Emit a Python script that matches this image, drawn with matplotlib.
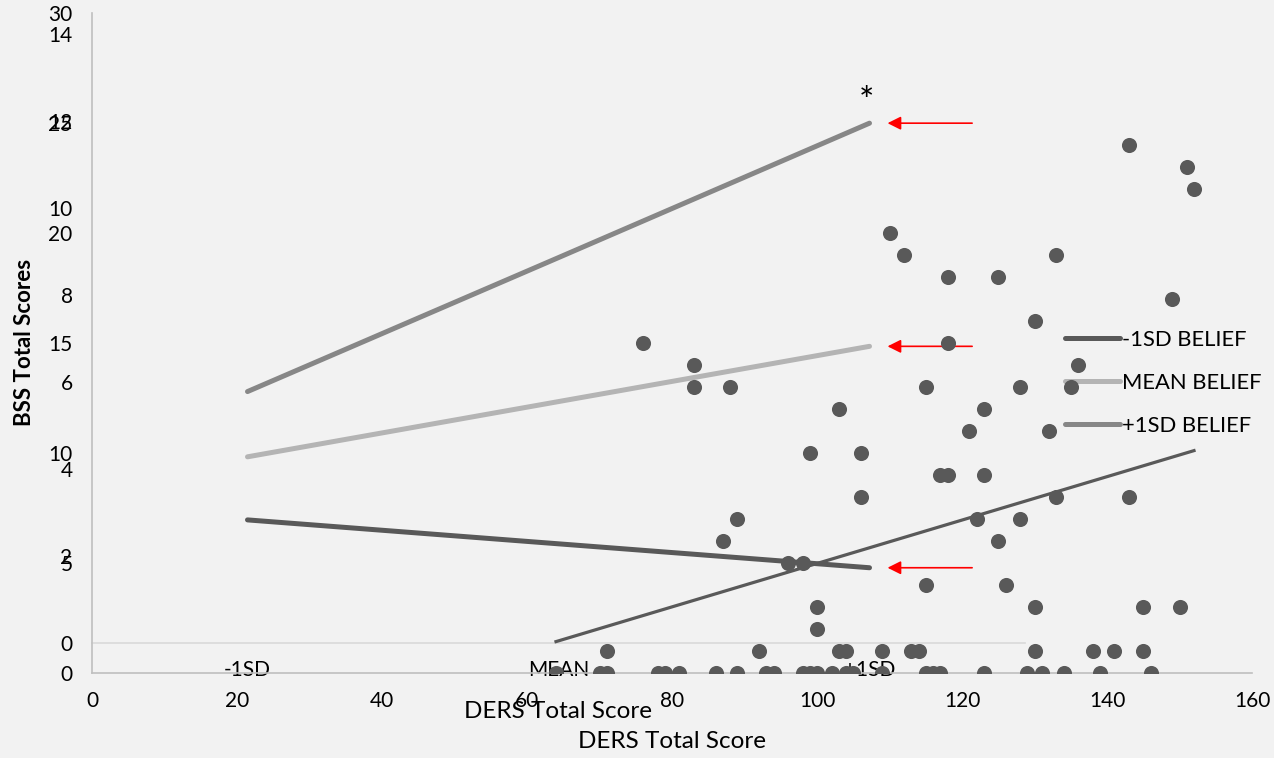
import matplotlib
matplotlib.use('Agg')
import matplotlib.pyplot as plt
import numpy as np

#######################################################################
#                                Data                                 #
#######################################################################
# DERS total score vs BSS total score, one entry per participant
ders = [64, 70, 71, 78, 79, 81, 86, 89, 93, 94, 98, 99, 100, 102, 104, 105,
        109, 115, 116, 117, 123, 129, 131, 134, 139, 146,
        71, 92, 103, 104, 109, 113, 114, 130, 138, 141, 145,
        100,
        100, 130, 145, 150,
        115, 126,
        96, 98,
        87, 125,
        89, 122, 128,
        106, 133, 143,
        117, 118, 123,
        99, 106,
        121, 132,
        103, 123,
        83, 88, 115, 128, 135,
        83, 136,
        76, 118,
        130,
        149,
        118, 125,
        112, 133,
        110,
        152,
        151,
        143]
bss = [0] * 26 + [1] * 11 + [2] + [3] * 4 + [4] * 2 + [5] * 2 + [6] * 2 + \
      [7] * 3 + [8] * 3 + [9] * 3 + [10] * 2 + [11] * 2 + [12] * 2 + \
      [13] * 5 + [14] * 2 + [15] * 2 + [16] + [17] + [18] * 2 + [19] * 2 + \
      [20] + [22] + [23] + [24]

# simple slopes of belief as moderator
categories = ['-1SD', 'MEAN', '+1SD']
minus_sd_belief = [2.83, 2.28, 1.73]
mean_belief = [4.28, 5.55, 6.82]
plus_sd_belief = [5.78, 8.86, 11.95]

scatter_yticks = [0, 5, 10, 15, 20, 25, 30]
scatter_xticks = [0, 20, 40, 60, 80, 100, 120, 140, 160]
line_yticks = [0, 2, 4, 6, 8, 10, 12, 14]

#######################################################################
#                               Styling                               #
#######################################################################
plt.rcParams['font.family'] = ['Lato', 'DejaVu Sans']
BG = '#f2f2f2'
DARK = '#595959'
MID = '#878787'
LIGHT = '#b4b4b4'
FS = 15          # tick labels
FS_TITLE = 17.5  # axis titles
FS_LEG = 15.8

W, H = 1274, 758
fig = plt.figure(figsize=(W / 100, H / 100), dpi=100, facecolor=BG)


def frac(left, top, right, bottom):
    """Pixel box -> figure fraction rect"""
    return [left / W, 1 - bottom / H, (right - left) / W, (bottom - top) / H]


# line chart sits underneath, scatter on top
ax_l = fig.add_axes(frac(92, 34, 1025, 643))
ax_s = fig.add_axes(frac(92, 13, 1252, 673))
for ax in (ax_l, ax_s):
    ax.set_facecolor('none')
    for sp in ax.spines.values():
        sp.set_visible(False)

#######################################################################
#                             Line chart                              #
#######################################################################
xc = np.arange(len(categories))
ax_l.plot(xc, minus_sd_belief, color=DARK, lw=3.6, solid_capstyle='round',
          label='-1SD BELIEF')
ax_l.plot(xc, mean_belief, color=LIGHT, lw=3.6, solid_capstyle='round',
          label='MEAN BELIEF')
ax_l.plot(xc, plus_sd_belief, color=MID, lw=3.6, solid_capstyle='round',
          label='+1SD BELIEF')
ax_l.set_xlim(-0.5, 2.5)
ax_l.set_ylim(0, 14)
ax_l.set_xticks(xc)
ax_l.set_xticklabels(categories)
ax_l.set_yticks(line_yticks)
ax_l.spines['bottom'].set_visible(True)
ax_l.spines['bottom'].set_color('#d9d9d9')
ax_l.spines['bottom'].set_linewidth(1.2)
ax_l.tick_params(length=0, labelsize=FS, colors='black')
ax_l.tick_params(axis='x', pad=12)
ax_l.tick_params(axis='y', pad=14)
ax_l.set_xlabel('DERS Total Score', fontsize=FS_TITLE, va='center')
ax_l.xaxis.set_label_coords(0.5, -(712 - 643) / 609)

leg = ax_l.legend(loc='center left', bbox_to_anchor=(1065 / W, 1 - 383 / H),
                  bbox_transform=fig.transFigure, frameon=False,
                  fontsize=FS_LEG, handlelength=2.5, handletextpad=0.1,
                  labelspacing=1.05, borderaxespad=0, borderpad=0)

# arrows pointing at the slope ends, asterisk on the significant one
for ys in (plus_sd_belief, mean_belief, minus_sd_belief):
    ax_l.annotate('', xy=(2.058, ys[-1]), xytext=(2.33, ys[-1]),
                  arrowprops=dict(arrowstyle='-|>', color='red', lw=1.2,
                                  mutation_scale=20, shrinkA=0, shrinkB=0),
                  zorder=6)
ax_l.annotate('*', xy=(2, plus_sd_belief[-1]), xytext=(-3, 4),
              textcoords='offset pixels', ha='center', va='bottom',
              fontsize=26)

#######################################################################
#                            Scatter chart                            #
#######################################################################
ax_s.scatter(ders, bss, s=118, color=DARK, linewidths=0, zorder=3)
slope, icpt = np.polyfit(ders, bss, 1)
tx = np.array([min(ders), max(ders)])
ax_s.plot(tx, slope * tx + icpt, color=DARK, lw=2.3, zorder=2)

ax_s.set_xlim(0, 160)
ax_s.set_ylim(0, 30)
ax_s.set_xticks(scatter_xticks)
ax_s.set_yticks(scatter_yticks)
for side in ('left', 'bottom'):
    ax_s.spines[side].set_visible(True)
    ax_s.spines[side].set_color('#bfbfbf')
    ax_s.spines[side].set_linewidth(1.2)
ax_s.tick_params(length=0, labelsize=FS, colors='black')
ax_s.tick_params(axis='x', pad=13)
ax_s.tick_params(axis='y', pad=14)
ax_s.set_xlabel('DERS Total Score', fontsize=FS_TITLE, va='center')
ax_s.xaxis.set_label_coords(0.5, -(742 - 673) / 660)
ax_s.set_ylabel('BSS Total Scores', fontsize=16, fontweight='bold',
                va='center')
ax_s.yaxis.set_label_coords(-(92 - 25) / 1160, (673 - 342) / 660)

fig.savefig('out.png', dpi=100, facecolor=BG)
